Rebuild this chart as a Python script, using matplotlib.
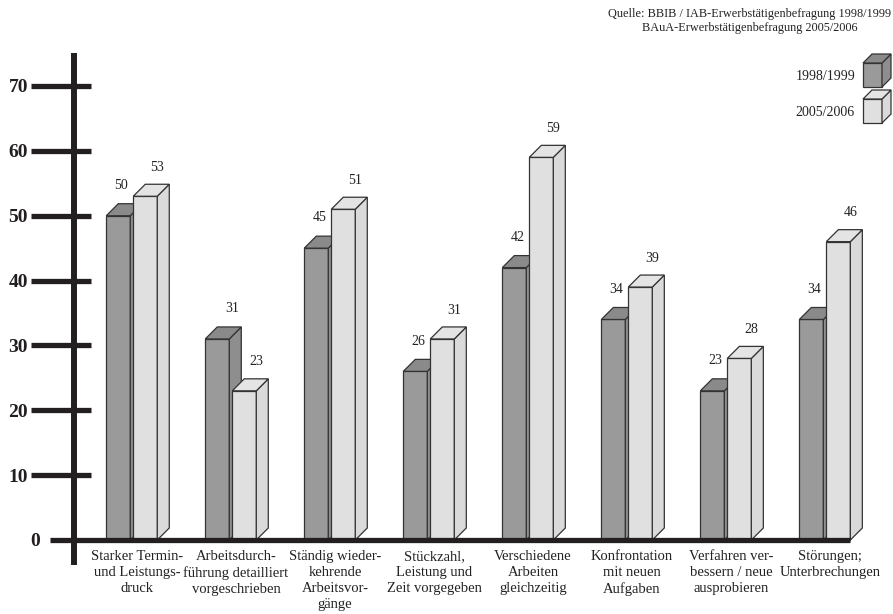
import matplotlib
matplotlib.use("Agg")
from matplotlib import pyplot as plt
from matplotlib.patches import Polygon

plt.rcParams["font.family"] = ["Liberation Serif", "DejaVu Serif"]

categories = [
    "Starker Termin-\nund Leistungs-\ndruck",
    "Arbeitsdurch-\nführung detailliert\nvorgeschrieben",
    "Ständig wieder-\nkehrende\nArbeitsvor-\ngänge",
    "Stückzahl,\nLeistung und\nZeit vorgegeben",
    "Verschiedene\nArbeiten\ngleichzeitig",
    "Konfrontation\nmit neuen\nAufgaben",
    "Verfahren ver-\nbessern / neue\nausprobieren",
    "Störungen;\nUnterbrechungen",
]
values_9899 = [50, 31, 45, 26, 42, 34, 23, 34]
values_0506 = [53, 23, 51, 31, 59, 39, 28, 46]
series_names = ["1998/1999", "2005/2006"]
y_ticks = [0, 10, 20, 30, 40, 50, 60, 70]
source_text = "Quelle: BBIB / IAB-Erwerbstätigenbefragung 1998/1999\nBAuA-Erwerbstätigenbefragung 2005/2006"

# front, side, top
dark_colors = ("#9a9a9a", "#8e8e8e", "#8a8a8a")
light_colors = ("#e0e0e0", "#dadada", "#e4e4e4")
edge = "#333333"
black = "#231f20"

W, H = 893, 614
fig = plt.figure(figsize=(W / 100, H / 100), dpi=100)
ax = fig.add_axes([74 / W, (H - 540) / H, (W - 74) / W, (540 - 86) / H])
ax.set_xlim(-0.636, 7.636)
ax.set_ylim(0, 70)
ax.set_axis_off()

# pixels per unit, used for the fake 3d depth
px_x = (W - 74) / (7.636 + 0.636)
px_y = (540 - 86) / 70
dx = 12 / px_x
dy = 12 / px_y
bar_w = 24 / px_x
gap = 3 / px_x


def draw_bar(ax, x0, h, w, colors):
    front = Polygon([(x0, 0), (x0 + w, 0), (x0 + w, h), (x0, h)], closed=True)
    side = Polygon([(x0 + w, 0), (x0 + w + dx, dy), (x0 + w + dx, h + dy), (x0 + w, h)], closed=True)
    top = Polygon([(x0, h), (x0 + dx, h + dy), (x0 + w + dx, h + dy), (x0 + w, h)], closed=True)
    for patch, col in zip([front, side, top], colors):
        patch.set_facecolor(col)
        patch.set_edgecolor(edge)
        patch.set_linewidth(0.9)
        patch.set_clip_on(False)
        patch.set_zorder(3)
        ax.add_patch(patch)


for i, (v1, v2) in enumerate(zip(values_9899, values_0506)):
    x_dark = i - 0.31
    x_light = x_dark + bar_w + gap
    draw_bar(ax, x_dark, v1, bar_w, dark_colors)
    draw_bar(ax, x_light, v2, bar_w, light_colors)

    # dark label gets pushed left when the light bar is in the way
    shift = 0.09 if v2 > v1 else -0.03
    ax.text(x_dark + bar_w / 2 + dx - shift, v1 + dy + 2.8, str(v1),
            ha="center", va="center", fontsize=10, color="#222222")
    ax.text(x_light + bar_w / 2 + dx, v2 + dy + 2.6, str(v2),
            ha="center", va="center", fontsize=10, color="#222222")

    ax.text(i, -1.6, categories[i], ha="center", va="top", fontsize=10.5,
            linespacing=1.28, color="#222222")

# axis, ticks and baseline
last_right = len(values_0506) - 1 - 0.31 + 2 * bar_w + gap
ax.plot([-0.879, last_right], [0, 0], color=black, lw=3.8,
        solid_capstyle="butt", clip_on=False, zorder=5)
ax.plot([-0.636, -0.636], [-3.85, 75.1], color=black, lw=4.3,
        solid_capstyle="butt", clip_on=False, zorder=5)
for t in y_ticks:
    if t > 0:
        ax.plot([-1.071, -0.465], [t, t], color=black, lw=3.8,
                solid_capstyle="butt", clip_on=False, zorder=5)
    label_x = -1.1 if t else -0.98
    ax.text(label_x, t, str(t), ha="right", va="center_baseline",
            fontsize=14, fontweight="bold", color=black)

# legend and source, in pixel coordinates
lax = fig.add_axes([0, 0, 1, 1])
lax.set_xlim(0, W)
lax.set_ylim(H, 0)
lax.set_axis_off()

fig.text(750 / W, 1 - 8 / H, source_text, ha="center", va="top",
         fontsize=8.8, linespacing=1.2, color="#222222")

for k, (name, cols) in enumerate(zip(series_names, [dark_colors, light_colors])):
    y0 = 63 + k * 36
    fx, fw, fh, d = 863, 19, 24, 9
    pts_front = [(fx, y0), (fx + fw, y0), (fx + fw, y0 + fh), (fx, y0 + fh)]
    pts_side = [(fx + fw, y0), (fx + fw + d, y0 - d), (fx + fw + d, y0 + fh - d), (fx + fw, y0 + fh)]
    pts_top = [(fx, y0), (fx + d, y0 - d), (fx + fw + d, y0 - d), (fx + fw, y0)]
    for pts, col in zip([pts_front, pts_side, pts_top], cols):
        lax.add_patch(Polygon(pts, closed=True, facecolor=col, edgecolor=edge, lw=0.9))
    lax.text(855, y0 + 13, name, ha="right", va="center", fontsize=10, color="#222222")

fig.savefig("out.png", dpi=100)
